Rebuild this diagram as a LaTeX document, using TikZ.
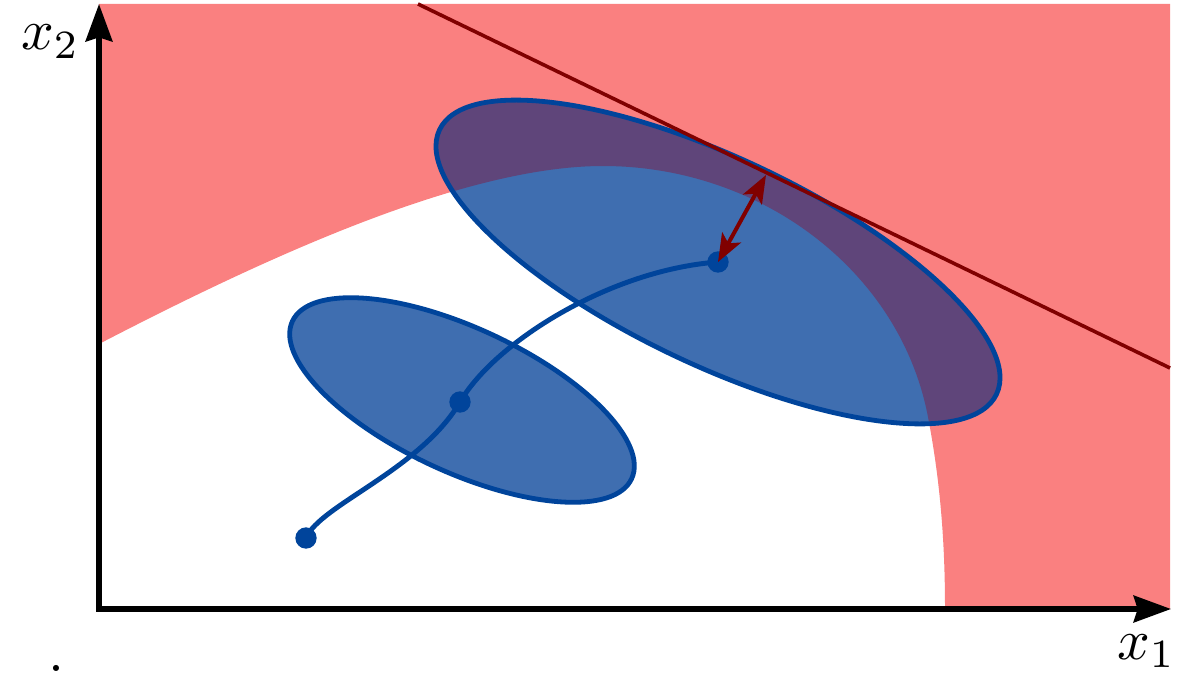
\documentclass[tikz,border=0pt]{standalone}
\usetikzlibrary{arrows.meta}
\definecolor{redfill}{RGB}{250,128,128}
\definecolor{ellfill}{RGB}{63,110,176}
\definecolor{ellpurple}{RGB}{95,69,122}
\definecolor{blueline}{RGB}{0,68,155}
\definecolor{darkred}{RGB}{128,0,0}
\newcommand{\redregionpath}{(99,4) -- (1170,4) -- (1170,609) -- (945,609)
  .. controls (945,540) and (940,480) .. (928,417)
  .. controls (900,270) and (760,166) .. (603,166)
  .. controls (470,166) and (280,250) .. (99,344) -- cycle}
\begin{document}
\begin{tikzpicture}[x=0.75pt,y=-0.75pt,
  ellstyle/.style={draw=blueline, line width=3.6pt},
  dotstyle/.style={circle, fill=blueline, inner sep=0pt, minimum size=16pt},
  traj/.style={draw=blueline, line width=3.7pt},
  tangent/.style={draw=darkred, line width=2.7pt},
  gap/.style={draw=darkred, line width=3pt, {Stealth[length=21pt,width=16pt,inset=5pt]}-{Stealth[length=21pt,width=16pt,inset=5pt]}},
  axisline/.style={line width=4pt, {Stealth[length=28pt,width=20pt,inset=3pt]}-{Stealth[length=28pt,width=20pt,inset=3pt]}},
  lbl/.style={scale=4.3, inner sep=0pt}]
\useasboundingbox (0,0) rectangle (1184,674);
% region
\fill[redfill] \redregionpath;
% large ellipse
\fill[ellfill, rotate around={-25.4:(718,262)}] (718,262) ellipse (308.3 and 103.4);
\begin{scope}
  \clip[rotate around={-25.4:(718,262)}] (718,262) ellipse (308.3 and 103.4);
  \fill[ellpurple] \redregionpath;
\end{scope}
\draw[ellstyle, rotate around={-25.4:(718,262)}] (718,262) ellipse (308.3 and 103.4);
% small ellipse
\fill[ellfill, rotate around={-24.9:(462,400)}] (462,400) ellipse (187 and 72);
\draw[ellstyle, rotate around={-24.9:(462,400)}] (462,400) ellipse (187 and 72);
% tangent line
\coordinate (lineA) at (418,4);
\coordinate (lineB) at (1170,368);
\draw[tangent] (lineA) -- (lineB);
% trajectory
\node[dotstyle] (p0) at (306,538) {};
\node[dotstyle] (p1) at (460,402) {};
\node[dotstyle] (p2) at (718,262) {};
\draw[traj] (p0.center) .. controls (320,505) and (420,470) .. (p1.center)
  .. controls (495,342) and (610,270) .. (p2.center);
% distance arrow
\coordinate (touch) at (766,175);
\draw[gap] (touch) -- (p2.center);
% axes
\coordinate (O) at (99,609);
\coordinate (xend) at (1171,609);
\coordinate (yend) at (99,4);
\draw[axisline] (yend) -- (O) -- (xend);
% labels
\node[lbl, anchor=base west] (lx2) at (20,50) {$x_2$};
\node[lbl, anchor=base west] (lx1) at (1116,659) {$x_1$};
\node[lbl, anchor=base] (dotlbl) at (56,671) {.};
\end{tikzpicture}
\end{document}
